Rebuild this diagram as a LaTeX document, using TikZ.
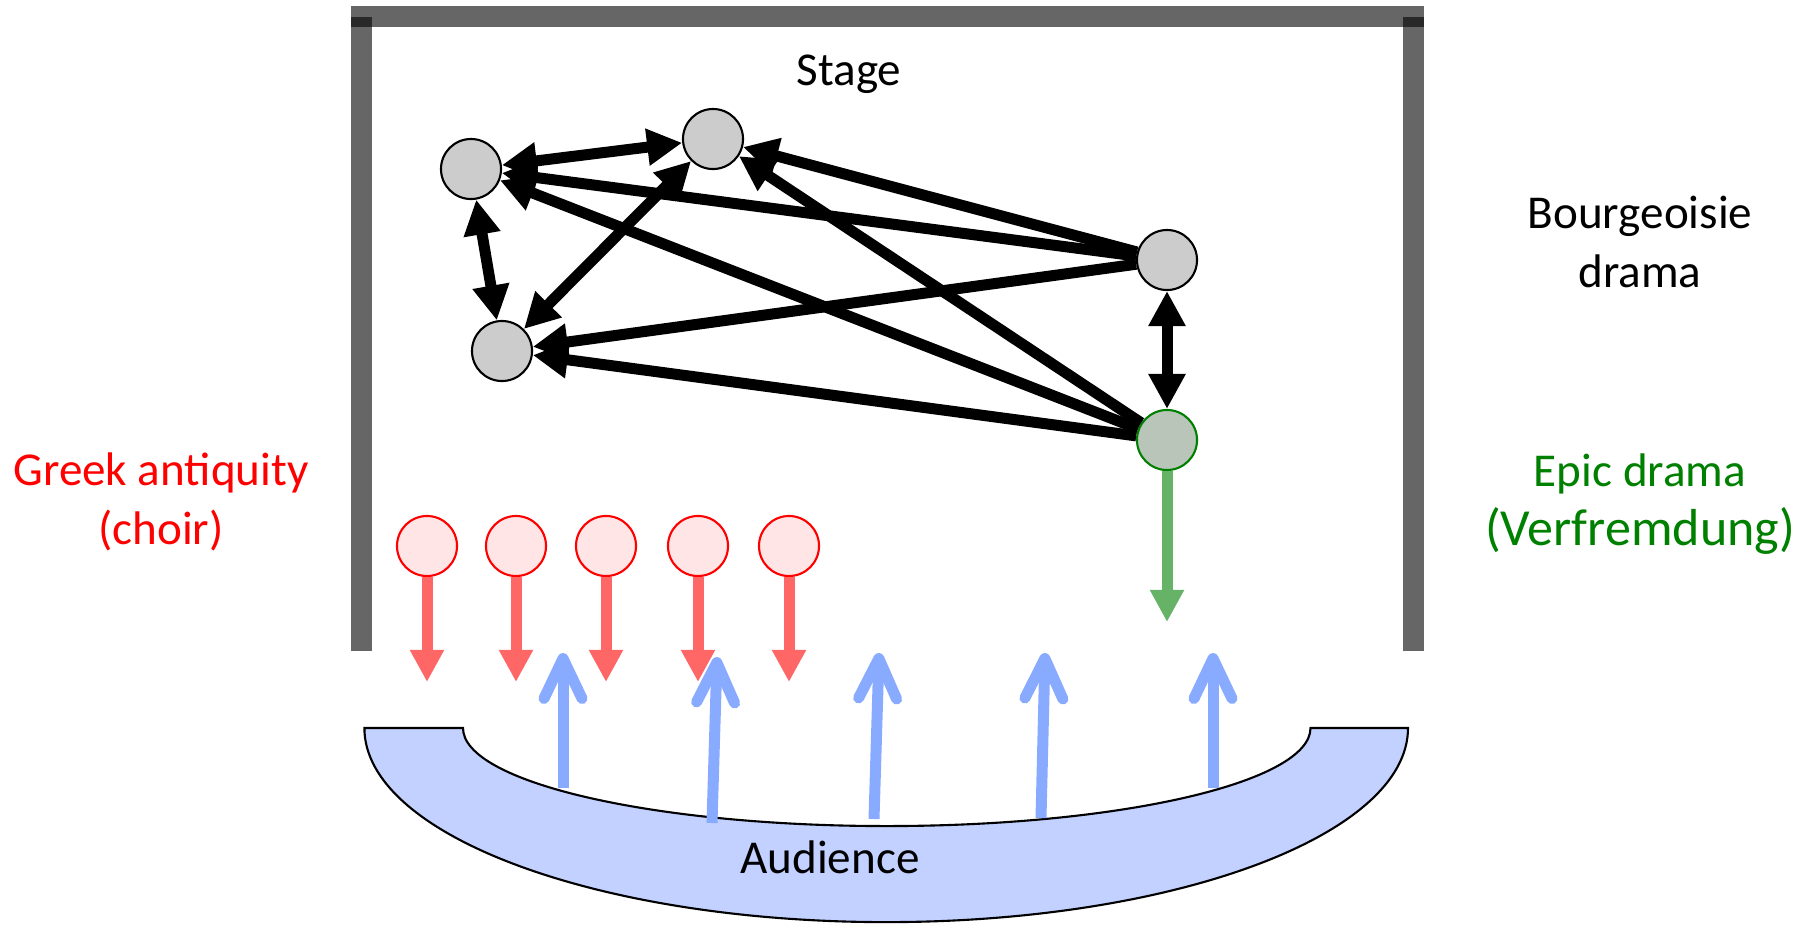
\documentclass[tikz,border=0pt]{standalone}
\usepackage{fontspec}
\setmainfont{Carlito}
\usepackage{tikz}
\usetikzlibrary{arrows.meta}
\definecolor{actorgray}{HTML}{CCCCCC}
\definecolor{epicfill}{HTML}{BAC5BA}
\definecolor{epicdark}{HTML}{008000}
\definecolor{epiclight}{HTML}{66B266}
\definecolor{choirfill}{HTML}{FFE5E5}
\definecolor{choirlight}{HTML}{FF6666}
\definecolor{gazeblue}{HTML}{88AAFF}
\definecolor{seatblue}{HTML}{C2D1FF}
\tikzset{
  frame/.style={fill=black, fill opacity=0.6},
  actor/.style={circle, draw=black, line width=0.6pt, fill=actorgray, minimum size=6mm, inner sep=0pt},
  epic/.style={actor, draw=epicdark, fill=epicfill},
  choir/.style={actor, draw=red, fill=choirfill},
  link/.style={line width=1.1mm, >={Triangle[length=3.5mm, width=3.5mm]}},
  choirarrow/.style={draw=choirlight, line width=1.1mm, -{Triangle[length=3.2mm, width=3.2mm]}},
  epicarrow/.style={draw=epiclight, line width=1.1mm, -{Triangle[length=3.2mm, width=3.2mm]}},
  gaze/.style={draw=gazeblue, line width=1.1mm, -{Straight Barb[length=4mm, width=3.8mm, round]}},
  audience/.style={draw=black, line width=0.6pt, fill=seatblue},
  label/.style={font=\fontsize{13.4}{16.8}\selectfont, align=center},
}

\begin{document}
\begin{tikzpicture}[x=0.01cm, y=-0.01cm]
\useasboundingbox (0,0) rectangle (1812,924);

% Stage frame
\fill[frame] (351,6) rectangle (1424,27);
\fill[frame] (351,17) rectangle (372,651);
\fill[frame] (1403,17) rectangle (1424,651);
\node[label, anchor=base] (stage) at (849,85) {Stage};

% Audience
\draw[audience] (365,728) -- (463,728)
  arc[start angle=180, end angle=360, x radius=4.235cm, y radius=0.98cm]
  -- (1408,728)
  arc[start angle=0, end angle=-180, x radius=5.215cm, y radius=1.94cm] -- cycle;
\node[label, anchor=base] (aud) at (830,873) {Audience};

% Characters of the bourgeois drama
\node[actor] (a) at (471,169) {};
\node[actor] (b) at (713,139) {};
\node[actor] (c) at (502,351) {};
\node[actor] (d) at (1167,260) {};
\node[epic] (e) at (1167,440) {};

\draw[link, <->] (a) -- (b);
\draw[link, <->] (a) -- (c);
\draw[link, <->] (b) -- (c);
\draw[link, <->] (d) -- (e);
\foreach \t in {a,b,c} {
  \draw[link, ->] (d) -- (\t);
  \draw[link, ->] (e) -- (\t);
}

% Verfremdung
\coordinate (et) at (1167,622);
\draw[epicarrow] (e) -- (et);

% Choir
\foreach \i/\x in {1/427,2/516,3/606,4/698,5/789} {
  \node[choir] (ch\i) at (\x,546) {};
  \coordinate (cht\i) at (\x,682);
  \draw[choirarrow] (ch\i) -- (cht\i);
}

% Gaze of the audience
\foreach \i/\xa/\ya/\xb/\yb in {1/563/788/563/653, 2/712/823/717/657, 3/874/819/879/653, 4/1041/818/1045/653, 5/1213/788/1213/653} {
  \coordinate (g\i) at (\xa,\ya);
  \coordinate (gt\i) at (\xb,\yb);
  \draw[gaze] (g\i) -- (gt\i);
}

% Labels
\node[label, text=red] (greek) at (161,502) {Greek antiquity\\(choir)};
\node[label] (bourg) at (1640,242) {Bourgeoisie\\drama};
\node[label, text=epicdark] (epicl) at (1640,504) {Epic drama\\{\fontsize{14.8}{16.8}\selectfont(Verfremdung)}};

\end{tikzpicture}
\end{document}
